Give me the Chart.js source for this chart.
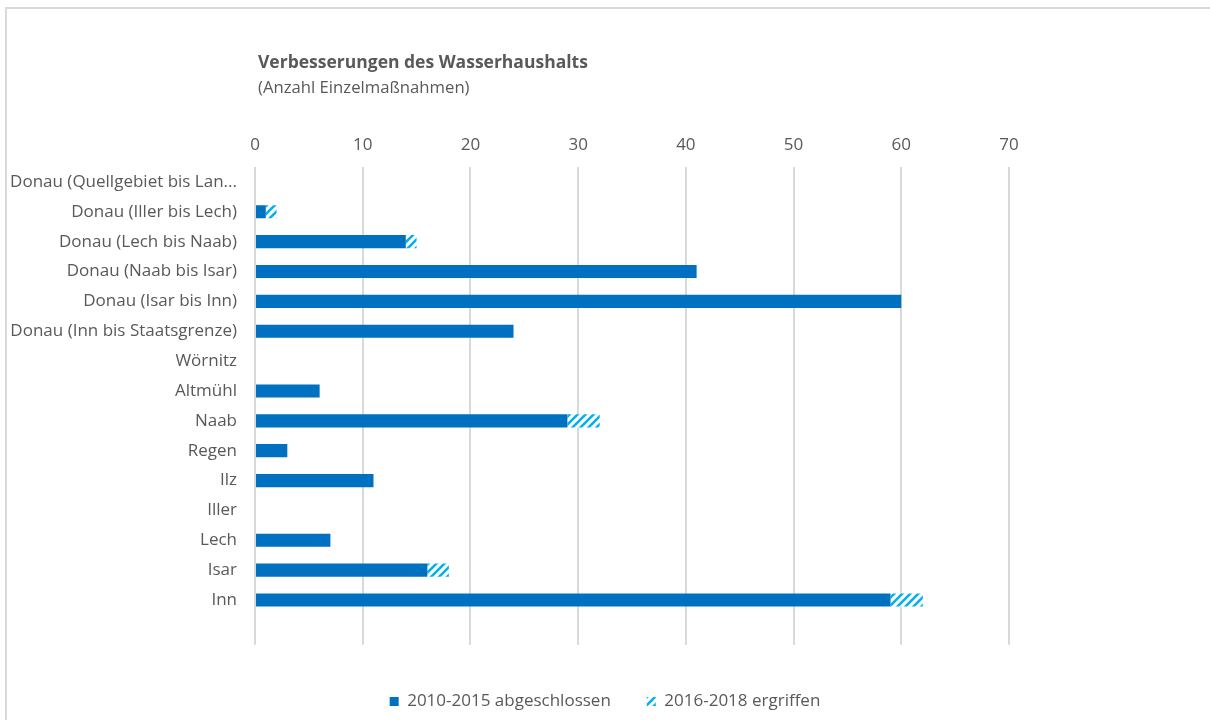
<!DOCTYPE html>
<html lang="de">
<head>
<meta charset="utf-8">
<title>Verbesserungen des Wasserhaushalts</title>
<script src="https://cdn.jsdelivr.net/npm/chart.js@4.4.1/dist/chart.umd.min.js"></script>
<style>
  html, body { margin: 0; padding: 0; background: #fff; overflow: hidden; }
  .frame {
    position: absolute; left: 5px; top: 7px; width: 1300px; height: 800px;
    border: 2px solid #d9d9d9; box-sizing: border-box;
  }
  .wrap { position: absolute; left: 0; top: 0; width: 1210px; height: 720px; }
  .title {
    position: absolute; left: 258px; top: 49px; margin: 0;
    font: bold 17.5px "Open Sans", sans-serif; color: #595959;
  }
  .subtitle {
    position: absolute; left: 258px; top: 75px; margin: 0;
    font: 16.7px "Open Sans", sans-serif; color: #595959;
  }
</style>
</head>
<body>
<div class="frame"></div>
<div class="wrap"><canvas id="wasserChart" width="1210" height="720"></canvas></div>
<p class="title">Verbesserungen des Wasserhaushalts</p>
<p class="subtitle">(Anzahl Einzelmaßnahmen)</p>

<script>
// Flussabschnitte (letzte Zeile leer, wie in der Vorlage)
const abschnitte = [
  'Donau (Quellgebiet bis Lan...',
  'Donau (Iller bis Lech)',
  'Donau (Lech bis Naab)',
  'Donau (Naab bis Isar)',
  'Donau (Isar bis Inn)',
  'Donau (Inn bis Staatsgrenze)',
  'Wörnitz',
  'Altmühl',
  'Naab',
  'Regen',
  'Ilz',
  'Iller',
  'Lech',
  'Isar',
  'Inn',
  ''
];
const abgeschlossen = [0, 1, 14, 41, 60, 24, 0, 6, 29, 3, 11, 0, 7, 16, 59, null];
const ergriffen     = [0, 1, 1, 0, 0, 0, 0, 0, 3, 0, 0, 0, 0, 2, 3, null];
const xTicks = [0, 10, 20, 30, 40, 50, 60, 70];

const textColor = '#595959';
const fontFamily = '"Open Sans", sans-serif';
const labelFont = { family: fontFamily, size: 17 };

// diagonal hatch for the 2016-2018 series
function makeHatch(color) {
  const c = document.createElement('canvas');
  c.width = 8; c.height = 8;
  const g = c.getContext('2d');
  g.fillStyle = '#fff';
  g.fillRect(0, 0, 8, 8);
  g.strokeStyle = color;
  g.lineWidth = 2.6;
  g.beginPath();
  g.moveTo(-1, 9); g.lineTo(9, -1);
  g.moveTo(-1, 1); g.lineTo(1, -1);
  g.moveTo(7, 9); g.lineTo(9, 7);
  g.stroke();
  return g.createPattern(c, 'repeat');
}

const chart = new Chart(document.getElementById('wasserChart'), {
  type: 'bar',
  data: {
    labels: abschnitte,
    datasets: [
      { label: '2010-2015 abgeschlossen', data: abgeschlossen, backgroundColor: '#0070c0', borderWidth: 0 },
      { label: '2016-2018 ergriffen', data: ergriffen, backgroundColor: makeHatch('#00b0f0'), borderWidth: 0 }
    ]
  },
  options: {
    indexAxis: 'y',
    responsive: false,
    animation: false,
    datasets: { bar: { categoryPercentage: 1, barPercentage: 0.44 } },
    layout: { padding: { top: 130, right: 0, left: 0, bottom: 0 } },
    plugins: {
      tooltip: { enabled: false },
      title: { display: false },
      legend: {
        position: 'bottom',
        title: { display: true, text: '', font: { size: 1 }, padding: { top: 0, bottom: 11 } },
        labels: {
          color: textColor,
          font: labelFont,
          boxWidth: 9,
          boxHeight: 9,
          padding: 36
        }
      }
    },
    scales: {
      x: {
        position: 'top',
        stacked: true,
        min: 0,
        max: 70,
        afterFit: (s) => { s.height = 37; },
        afterBuildTicks: (s) => { s.ticks = xTicks.map(v => ({ value: v })); },
        border: { display: false },
        grid: { color: '#d9d9d9', lineWidth: 2, drawTicks: false },
        ticks: { color: textColor, font: labelFont, padding: 12 }
      },
      y: {
        stacked: true,
        afterFit: (s) => { s.width = 255; },
        border: { display: false },
        grid: { display: false, drawTicks: false },
        ticks: { color: textColor, font: labelFont, padding: 18, autoSkip: false }
      },
      // empty space on the right of the plot
      rechts: {
        axis: 'y',
        position: 'right',
        afterFit: (s) => { s.width = 201; },
        border: { display: false },
        grid: { display: false, drawTicks: false },
        ticks: { display: false }
      }
    }
  }
});
</script>
</body>
</html>
